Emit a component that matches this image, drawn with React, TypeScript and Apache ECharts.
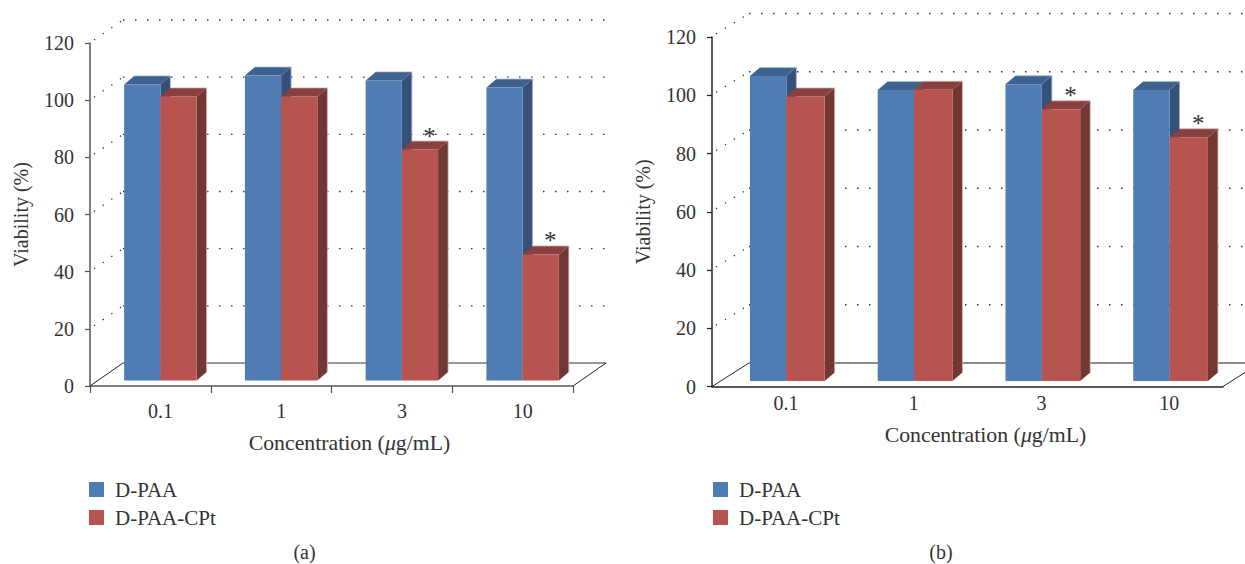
import React, { useEffect, useRef } from "react";
import * as echarts from "echarts";

const concentrations = ["0.1", "1", "3", "10"];
const yTicks = [20, 40, 60, 80, 100, 120];
const seriesNames = ["D-PAA", "D-PAA-CPt"];

const panelABlue = [103.6, 106.7, 105, 102.5];
const panelARed = [99.4, 99.4, 80.8, 44.1];
const panelASig = [0, 0, 1, 1];

const panelBBlue = [104.7, 99.9, 101.9, 99.9];
const panelBRed = [97.7, 100, 93.3, 83.7];
const panelBSig = [0, 0, 1, 1];

const FONT = "Liberation Serif";
const TEXT = "#333333";

const palette = [
  { front: "#507cb4", top: "#3e628f", side: "#37507a", edge: "#a9bbd2" },
  { front: "#b85450", top: "#8a403e", side: "#713733", edge: "#d8b6b3" },
];

function makePanel(cfg: any) {
  const { idx, left, right, top, bottom, blue, red, sig, depth, shift, blueRatio, axisColor, floorColor, floorWidth, labelMargin, nameGap, tickShow, legendLeft, captionX, caption } = cfg;
  const bar3d = (seriesIdx: number) => (params: any, api: any) => {
    const i = api.value(0);
    const v = api.value(1);
    const band = api.size([1, 0])[0];
    const w = band * (seriesIdx === 0 ? blueRatio : 0.3);
    const base = api.coord([i, 0]);
    const tip = api.coord([i, v]);
    const x0 = base[0] + shift + (seriesIdx === 0 ? -w : 0);
    const y0 = base[1] - 5.5;
    const yt = tip[1] - 5.5;
    const x1 = x0 + w;
    const dx = 10;
    const dy = 8.5;
    const c = palette[seriesIdx];
    const children: any[] = [
      { type: "polygon", shape: { points: [[x1, yt], [x1 + dx, yt - dy], [x1 + dx, y0 - dy], [x1, y0]] }, style: { fill: c.side } },
      { type: "polygon", shape: { points: [[x0, yt], [x0 + dx, yt - dy], [x1 + dx, yt - dy], [x1, yt]] }, style: { fill: c.top } },
      { type: "rect", shape: { x: x0, y: yt, width: w, height: y0 - yt }, style: { fill: c.front } },
      { type: "polyline", shape: { points: [[x0 + dx, yt - dy], [x1 + dx, yt - dy], [x1 + dx, y0 - dy]] }, style: { fill: "none", stroke: c.edge, lineWidth: 0.8 } },
    ];
    if (api.value(2)) {
      children.push({
        type: "text",
        style: { x: x0 + w / 2 + 9.5, y: yt - 13.5, text: "*", fontSize: 25, fontFamily: FONT, fill: TEXT, align: "center", verticalAlign: "middle" },
      });
    }
    return { type: "group", children };
  };

  const wall = (params: any, api: any) => {
    const cs = params.coordSys;
    const p = api.coord([0, api.value(1)]);
    const x = cs.x;
    const y = p[1];
    const x2 = cs.x + cs.width;
    return {
      type: "group",
      children: [
        { type: "line", shape: { x1: x + 4, y1: y - 3, x2: x + depth[0], y2: y - depth[1] }, style: { stroke: "#333", lineWidth: 1.3, lineDash: [1.3, 9.2] } },
        { type: "line", shape: { x1: x + depth[0], y1: y - depth[1], x2: x2 + depth[0], y2: y - depth[1] }, style: { stroke: "#333", lineWidth: 1.3, lineDash: [1.5, 10.5] } },
      ],
    };
  };

  const floor = (params: any, api: any) => {
    const cs = params.coordSys;
    const yb = api.coord([0, 0])[1];
    const x = cs.x;
    const x2 = cs.x + cs.width;
    return {
      type: "group",
      children: [
        { type: "line", shape: { x1: x, y1: yb, x2: x + depth[0], y2: yb - depth[1] }, style: { stroke: "#222", lineWidth: 1 } },
        { type: "line", shape: { x1: x + depth[0], y1: yb - depth[1], x2: x2 + depth[0], y2: yb - depth[1] }, style: { stroke: floorColor, lineWidth: floorWidth } },
        { type: "line", shape: { x1: x2, y1: yb, x2: x2 + depth[0], y2: yb - depth[1] }, style: { stroke: "#222", lineWidth: 1 } },
      ],
    };
  };

  return {
    grid: { left, top, width: right - left, height: bottom - top, containLabel: false },
    xAxis: {
      type: "category",
      gridIndex: idx,
      data: concentrations,
      boundaryGap: true,
      name: "{t|Concentration (}{i|\u03bc}{t|g/mL)}",
      nameLocation: "middle",
      nameGap,
      nameTextStyle: {
        padding: [0, 0, 0, 36],
        rich: {
          t: { fontFamily: FONT, fontSize: 21.8, color: TEXT },
          i: { fontFamily: FONT, fontSize: 21.8, color: TEXT, fontStyle: "italic" },
        },
      },
      axisLine: { lineStyle: { color: axisColor, width: 1.5 } },
      axisTick: { show: tickShow, length: 7, lineStyle: { color: axisColor, width: 1.2 } },
      axisLabel: { margin: labelMargin, fontFamily: FONT, fontSize: 20, color: TEXT, padding: [0, 0, 0, 20] },
      splitLine: { show: false },
    },
    yAxis: {
      type: "value",
      gridIndex: idx,
      min: 0,
      max: 120,
      interval: 20,
      name: "Viability (%)",
      nameLocation: "middle",
      nameGap: 59,
      nameTextStyle: { fontFamily: FONT, fontSize: 20, color: TEXT },
      axisLine: { show: true, lineStyle: { color: axisColor, width: 1.5 } },
      axisTick: { show: true, length: 5, lineStyle: { color: axisColor, width: 1.2 } },
      axisLabel: { margin: 16, fontFamily: FONT, fontSize: 20, color: TEXT },
      splitLine: { show: false },
    },
    legend: {
      left: legendLeft,
      top: 479,
      padding: 0,
      orient: "vertical",
      data: seriesNames,
      itemWidth: 15,
      itemHeight: 15,
      itemGap: 7,
      icon: "rect",
      selectedMode: false,
      textStyle: { fontFamily: FONT, fontSize: 21, color: TEXT, padding: [0, 0, 0, 6] },
    },
    title: {
      text: caption,
      left: captionX,
      top: 537,
      textAlign: "center",
      textStyle: { fontFamily: FONT, fontSize: 20, fontWeight: "normal", color: TEXT },
    },
    series: [
      { type: "custom", name: "walls", xAxisIndex: idx, yAxisIndex: idx, silent: true, renderItem: wall, encode: { x: 0, y: 1 }, data: yTicks.map((t) => [0, t]) },
      { type: "custom", name: "floor", xAxisIndex: idx, yAxisIndex: idx, silent: true, renderItem: floor, encode: { x: 0, y: 1 }, data: [[0, 0]] },
      { type: "custom", name: seriesNames[0], xAxisIndex: idx, yAxisIndex: idx, renderItem: bar3d(0), itemStyle: { color: palette[0].front }, encode: { x: 0, y: 1 }, data: blue.map((v: number, i: number) => [i, v, 0]) },
      { type: "custom", name: seriesNames[1], xAxisIndex: idx, yAxisIndex: idx, renderItem: bar3d(1), itemStyle: { color: palette[1].front }, encode: { x: 0, y: 1 }, data: red.map((v: number, i: number) => [i, v, sig[i]]) },
    ],
  };
}

export default function App() {
  const ref = useRef<HTMLDivElement>(null);
  useEffect(() => {
    const chart = echarts.init(ref.current!, null, { renderer: "svg" });
    const a = makePanel({
      idx: 0, left: 90, right: 573, top: 43, bottom: 386, blue: panelABlue, red: panelARed, sig: panelASig,
      depth: [33, 23], shift: 10, blueRatio: 0.3, axisColor: "#555", floorColor: "#333", floorWidth: 1, labelMargin: 15, nameGap: 46, tickShow: true,
      legendLeft: 89, captionX: 299.5, caption: "(a)",
    });
    const b = makePanel({
      idx: 1, left: 712, right: 1223, top: 37, bottom: 386.5, blue: panelBBlue, red: panelBRed, sig: panelBSig,
      depth: [37, 23.5], shift: 10.5, blueRatio: 0.285, axisColor: "#222", floorColor: "#666", floorWidth: 1.6, labelMargin: 6, nameGap: 37, tickShow: false,
      legendLeft: 713, captionX: 936, caption: "(b)",
    });
    chart.setOption({
      animation: false,
      backgroundColor: "#ffffff",
      title: [a.title, b.title],
      legend: [a.legend, b.legend],
      grid: [a.grid, b.grid],
      xAxis: [a.xAxis, b.xAxis],
      yAxis: [a.yAxis, b.yAxis],
      series: [...a.series, ...b.series],
    });
    return () => chart.dispose();
  }, []);
  return <div ref={ref} style={{ position: "absolute", left: 0, top: 0, width: 1245, height: 564 }} />;
}
